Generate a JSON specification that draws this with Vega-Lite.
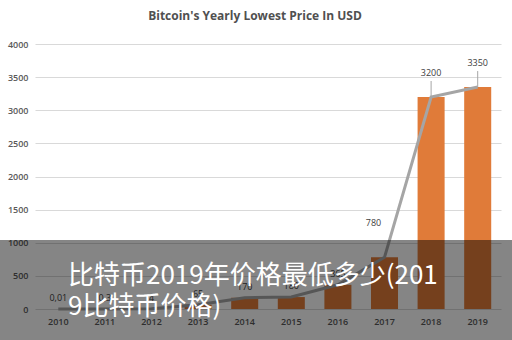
{
  "$schema": "https://vega.github.io/schema/vega-lite/v6.json",
  "width": 466,
  "height": 265,
  "autosize": {"type": "none"},
  "padding": {"left": 35, "top": 44, "right": 11, "bottom": 31},
  "background": "white",
  "title": {"text": "Bitcoin's Yearly Lowest Price In USD", "fontSize": 12, "font": "Open Sans", "fontWeight": "bold", "color": "#505050", "anchor": "middle", "dx": -13, "offset": 17},
  "config": {"view": {"stroke": null}},
  "data": {"values": [
    {"year": "2010", "price": 0.01, "label": "0,01"},
    {"year": "2011", "price": 0.3, "label": "0,3"},
    {"year": "2012", "price": 4, "label": "4"},
    {"year": "2013", "price": 65, "label": "65"},
    {"year": "2014", "price": 170, "label": "170"},
    {"year": "2015", "price": 180, "label": "180"},
    {"year": "2016", "price": 365, "label": "365"},
    {"year": "2017", "price": 780, "label": "780"},
    {"year": "2018", "price": 3200, "label": "3200"},
    {"year": "2019", "price": 3350, "label": "3350"}
  ]},
  "encoding": {
    "x": {"field": "year", "type": "ordinal", "scale": {"paddingInner": 0.42, "paddingOuter": 0.21},
      "axis": {"title": null, "labelAngle": 0, "ticks": false, "domain": false, "labelPadding": 8, "labelFont": "Open Sans", "labelFontSize": 9, "labelFontWeight": 600, "labelColor": "#595959"}},
    "y": {"field": "price", "type": "quantitative", "scale": {"domain": [0, 4000]},
      "axis": {"title": null, "format": "d", "values": [0, 500, 1000, 1500, 2000, 2500, 3000, 3500, 4000], "ticks": false, "domain": false, "labelPadding": 7, "gridColor": "#D9D9D9", "gridWidth": 1, "labelFont": "Open Sans", "labelFontSize": 9, "labelFontWeight": 600, "labelColor": "#595959"}}
  },
  "layer": [
    {"mark": {"type": "bar", "color": "#E07B39"}},
    {"mark": {"type": "line", "color": "#A5A5A5", "strokeWidth": 3}},
    {"transform": [{"filter": "datum.year < '2017'"}],
     "mark": {"type": "text", "dy": -11, "fontSize": 9, "font": "Open Sans", "color": "#404040"},
     "encoding": {"text": {"field": "label"}}},
    {"transform": [{"filter": "datum.year >= '2018'"}],
     "mark": {"type": "rule", "color": "#A5A5A5", "strokeWidth": 1, "y2Offset": -16},
     "encoding": {"y2": {"field": "price"}}},
    {"transform": [{"filter": "datum.year >= '2018'"}],
     "mark": {"type": "text", "dy": -24, "fontSize": 9, "font": "Open Sans", "color": "#404040"},
     "encoding": {"text": {"field": "label"}}},
    {"transform": [{"filter": "datum.year == '2017'"}],
     "mark": {"type": "text", "dy": -34, "dx": -11, "fontSize": 9, "font": "Open Sans", "color": "#404040"},
     "encoding": {"text": {"field": "label"}}},
    {"data": {"values": [{}]},
     "mark": {"type": "rect", "color": "#000000", "opacity": 0.48},
     "encoding": {"x": {"value": -35}, "x2": {"value": 477}, "y": {"value": 196}, "y2": {"value": 296}}},
    {"data": {"values": [{}]},
     "mark": {"type": "text", "color": "#FFFFFF", "font": "Noto Sans CJK SC", "fontSize": 26, "align": "left", "baseline": "top", "lineHeight": 31},
     "encoding": {"x": {"value": 33}, "y": {"value": 219}, "text": {"value": ["比特币2019年价格最低多少(201", "9比特币价格)"]}}}
  ]
}
